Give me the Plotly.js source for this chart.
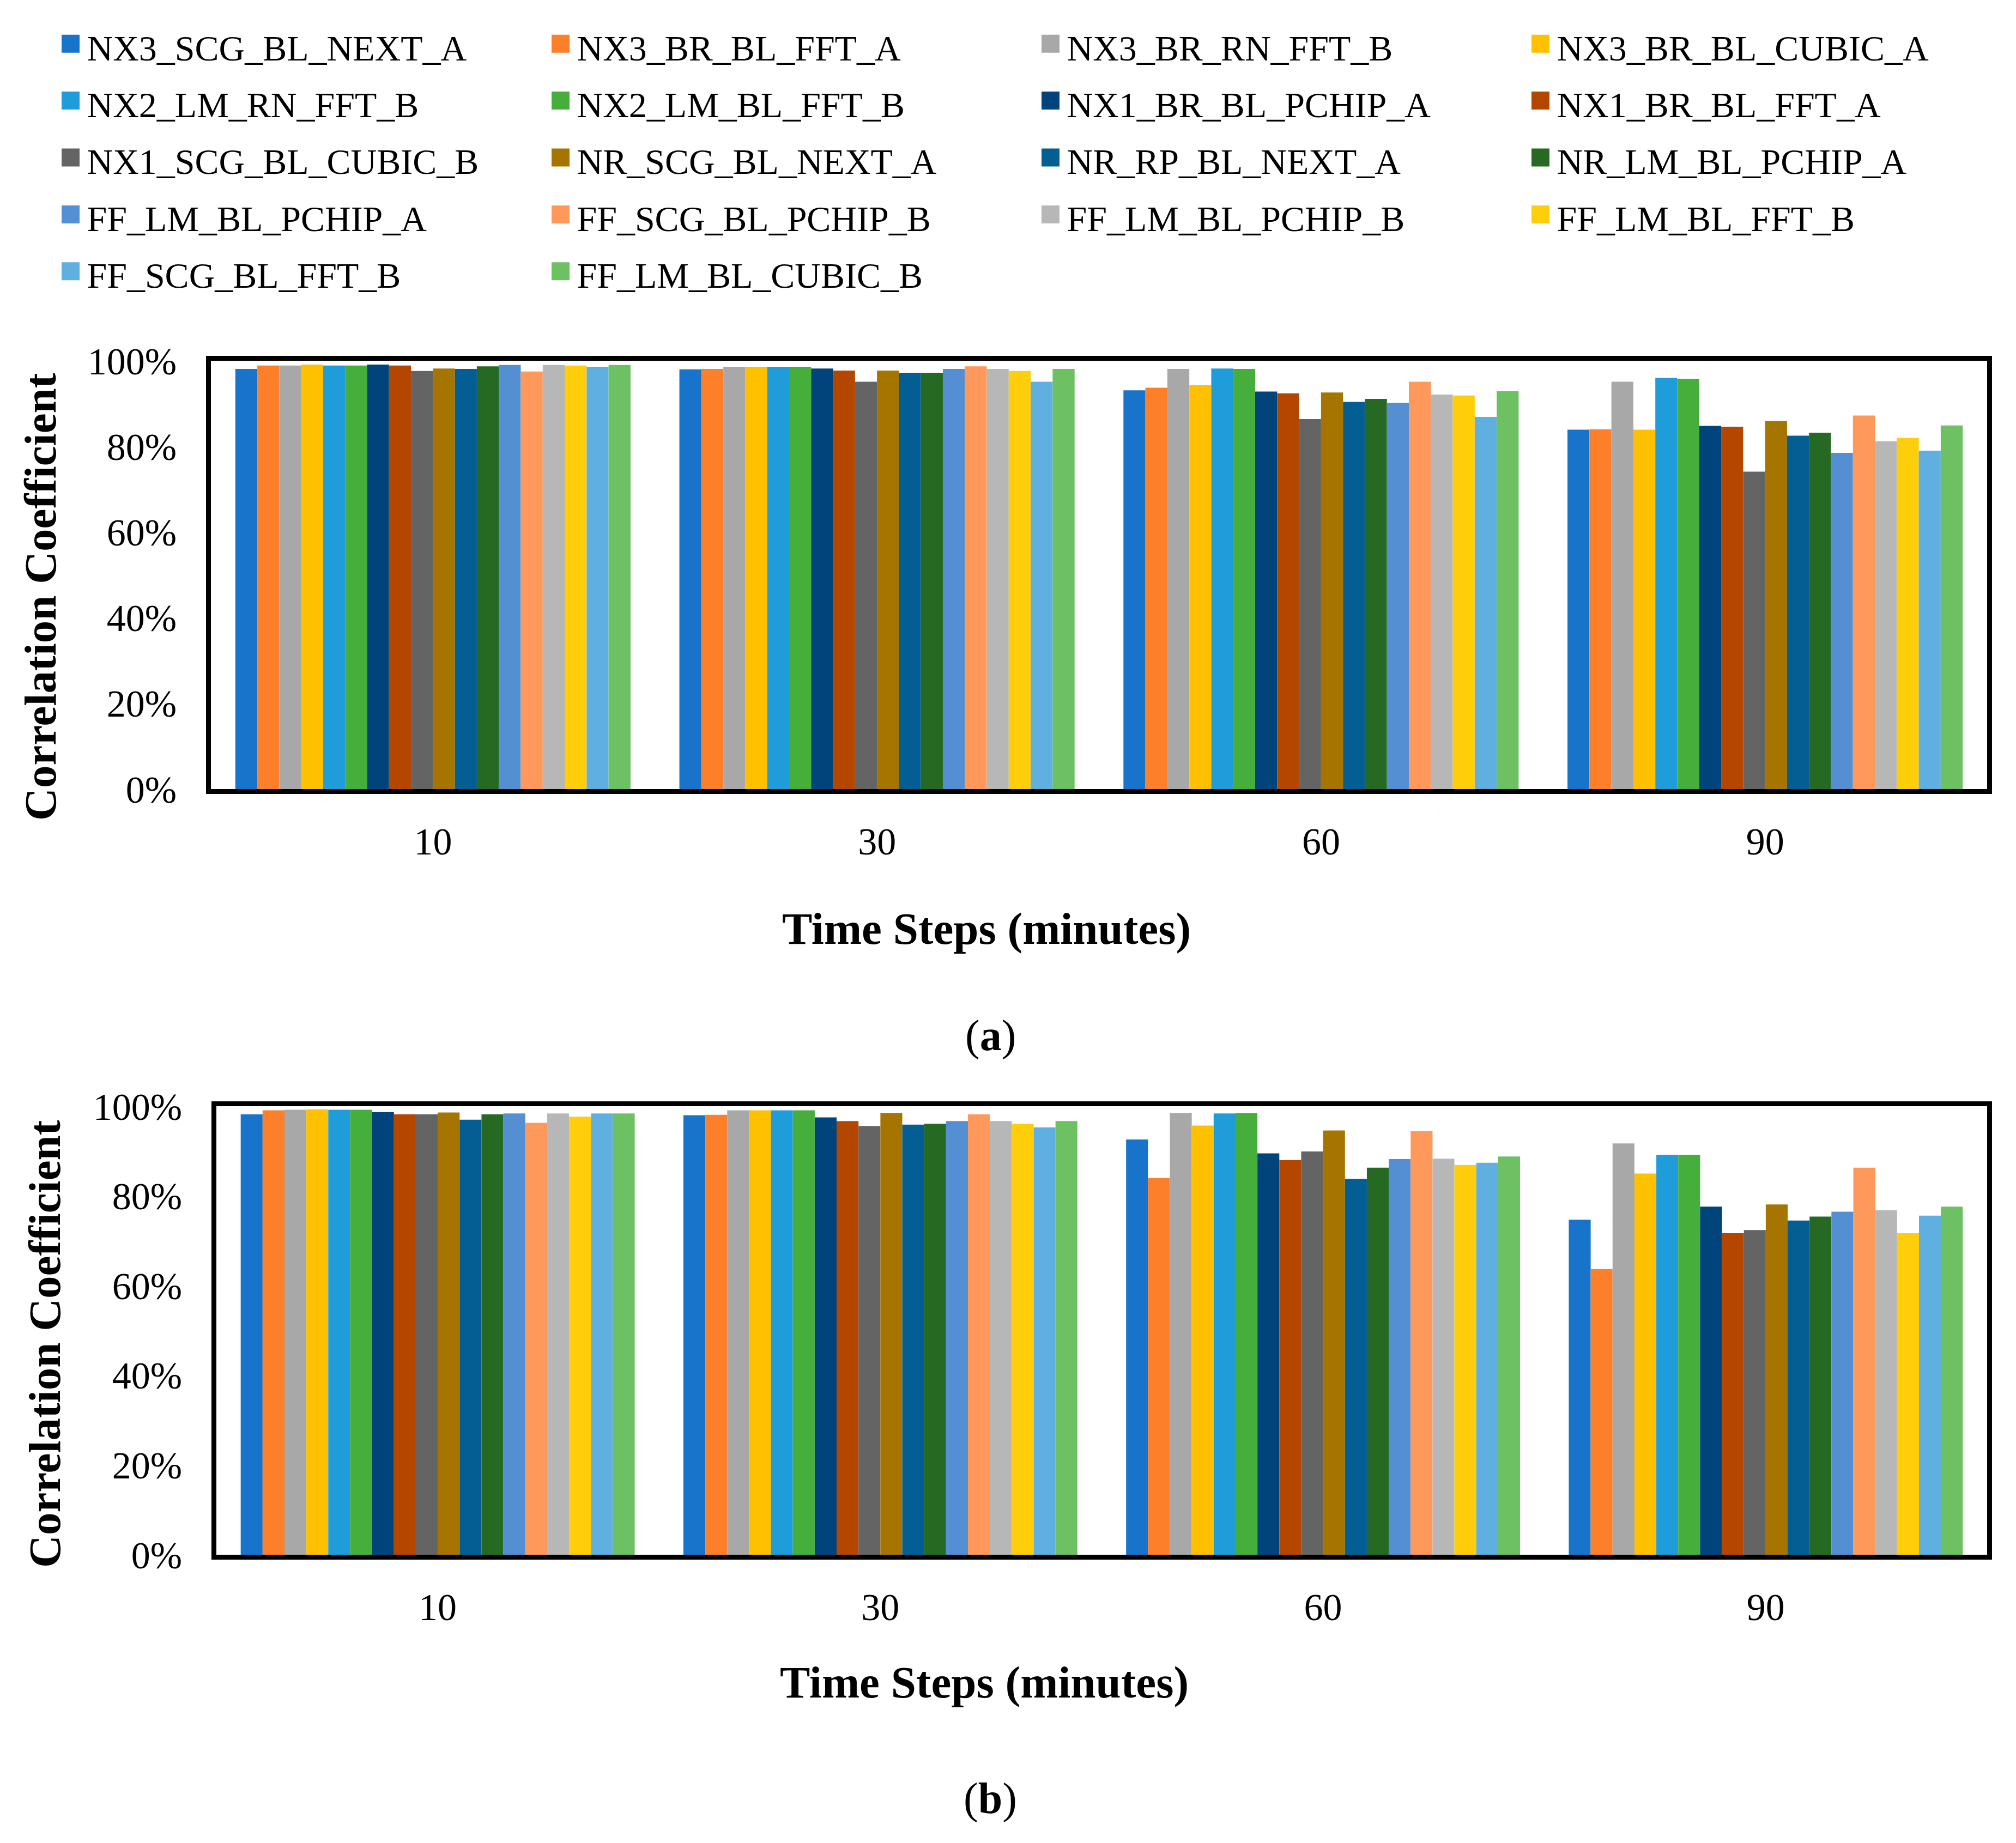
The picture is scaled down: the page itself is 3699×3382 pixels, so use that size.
<!DOCTYPE html>
<html><head><meta charset="utf-8">
<script src="https://cdn.plot.ly/plotly-3.0.1.min.js"></script>
<style>
html,body{margin:0;padding:0;background:#fff}
#chart .legend .legendpoints path { transform: translate(30px, 0px) scale(2.75) !important; transform-origin: 0px 0px; transform-box: view-box; }
</style>
</head><body>
<div id="chart" style="width:3699px;height:3382px"></div>
<script>
const timeSteps = ['10', '30', '60', '90'];
const seriesNames = [
  'NX3_SCG_BL_NEXT_A', 'NX3_BR_BL_FFT_A', 'NX3_BR_RN_FFT_B', 'NX3_BR_BL_CUBIC_A',
  'NX2_LM_RN_FFT_B', 'NX2_LM_BL_FFT_B', 'NX1_BR_BL_PCHIP_A', 'NX1_BR_BL_FFT_A',
  'NX1_SCG_BL_CUBIC_B', 'NR_SCG_BL_NEXT_A', 'NR_RP_BL_NEXT_A', 'NR_LM_BL_PCHIP_A',
  'FF_LM_BL_PCHIP_A', 'FF_SCG_BL_PCHIP_B', 'FF_LM_BL_PCHIP_B', 'FF_LM_BL_FFT_B',
  'FF_SCG_BL_FFT_B', 'FF_LM_BL_CUBIC_B'
];
const seriesColors = [
  '#1874CB', '#FE7F2A', '#A8A8A8', '#FFC000',
  '#1E9DDA', '#46AF3C', '#01447B', '#B44600',
  '#646464', '#A67500', '#025E93', '#266923',
  '#548FD3', '#FF985B', '#B7B7B7', '#FFCE0B',
  '#5FAFE0', '#6DC163'
];
// Panel (a) values in %, one array per time step, in series order
const panelA_t10 = [98.1, 98.9, 98.9, 99.1, 98.9, 98.9, 99.1, 98.9, 97.6, 98.2, 98.1, 98.7, 99.0, 97.5, 99.0, 98.9, 98.6, 99.0];
const panelA_t30 = [98.0, 98.1, 98.6, 98.6, 98.6, 98.6, 98.2, 97.7, 95.1, 97.7, 97.2, 97.2, 98.1, 98.7, 98.1, 97.6, 95.1, 98.1];
const panelA_t60 = [93.1, 93.7, 98.1, 94.3, 98.2, 98.1, 92.8, 92.4, 86.4, 92.6, 90.4, 91.1, 90.2, 95.1, 92.1, 91.9, 86.9, 92.9];
const panelA_t90 = [83.9, 84.0, 95.1, 83.9, 96.0, 95.8, 84.8, 84.6, 74.1, 85.9, 82.5, 83.2, 78.5, 87.2, 81.2, 82.0, 79.0, 84.9];
// Panel (b)
const panelB_t10 = [98.2, 99.1, 99.2, 99.3, 99.2, 99.2, 98.7, 98.2, 98.2, 98.6, 97.0, 98.2, 98.4, 96.3, 98.4, 97.7, 98.4, 98.4];
const panelB_t30 = [98.0, 98.1, 99.1, 99.1, 99.1, 99.1, 97.5, 96.7, 95.6, 98.5, 95.9, 96.1, 96.7, 98.2, 96.7, 96.1, 95.3, 96.7];
const panelB_t60 = [92.6, 84.0, 98.5, 95.7, 98.4, 98.5, 89.5, 88.0, 89.9, 94.6, 83.8, 86.3, 88.2, 94.5, 88.3, 86.9, 87.4, 88.8];
const panelB_t90 = [74.7, 63.7, 91.7, 85.0, 89.2, 89.2, 77.6, 71.7, 72.4, 78.1, 74.5, 75.4, 76.5, 86.3, 76.8, 71.7, 75.6, 77.6];

const panelA = [panelA_t10, panelA_t30, panelA_t60, panelA_t90];
const panelB = [panelB_t10, panelB_t30, panelB_t60, panelB_t90];

const W = 3699, H = 3382;
const px = v => v / W;
const py = v => 1 - v / H;

const traces = [];
seriesNames.forEach((name, i) => {
  traces.push({
    type: 'bar', x: timeSteps, y: panelA.map(a => a[i]),
    name: '<span style="font-size:66px">' + name + '</span>',
    legendgroup: name, marker: {color: seriesColors[i], line: {width: 0}},
    xaxis: 'x', yaxis: 'y', hoverinfo: 'x+y'
  });
});
seriesNames.forEach((name, i) => {
  traces.push({
    type: 'bar', x: timeSteps, y: panelB.map(a => a[i]),
    name: name, legendgroup: name, showlegend: false,
    marker: {color: seriesColors[i], line: {width: 0}},
    xaxis: 'x2', yaxis: 'y2', hoverinfo: 'x+y'
  });
});

const FONT = '"Liberation Serif", "Times New Roman", serif';
const axisCommon = {
  showline: true, mirror: true, linewidth: 9, linecolor: 'black',
  showgrid: false, zeroline: false, ticks: '', fixedrange: true
};

const layout = {
  width: W, height: H,
  margin: {l: 0, r: 0, t: 0, b: 0, pad: 0},
  paper_bgcolor: 'white', plot_bgcolor: 'white',
  font: {family: FONT, color: 'black', size: 70},
  barmode: 'group', bargap: 0.11, bargroupgap: 0,
  showlegend: true,
  legend: {
    orientation: 'h', x: px(99.5), xanchor: 'left', y: py(23), yanchor: 'top',
    font: {family: FONT, size: 78, color: 'black'},
    itemwidth: 50, entrywidth: 834, entrywidthmode: 'pixels',
    traceorder: 'normal', bgcolor: 'rgba(0,0,0,0)', borderwidth: 0
  },
  xaxis: Object.assign({}, axisCommon, {
    domain: [px(387), px(3646)], anchor: 'y', type: 'category',
    tickfont: {size: 70}, ticklabelstandoff: 27
  }),
  yaxis: Object.assign({}, axisCommon, {
    domain: [py(1448), py(662)], anchor: 'x', range: [0, 100], dtick: 20,
    ticksuffix: '%', tickfont: {size: 70}, ticklabelstandoff: 40
  }),
  xaxis2: Object.assign({}, axisCommon, {
    domain: [px(397), px(3646)], anchor: 'y2', type: 'category',
    tickfont: {size: 70}, ticklabelstandoff: 27
  }),
  yaxis2: Object.assign({}, axisCommon, {
    domain: [py(2853), py(2030)], anchor: 'x2', range: [0, 100], dtick: 20,
    ticksuffix: '%', tickfont: {size: 70}, ticklabelstandoff: 40
  }),
  annotations: [
    {text: '<b>Correlation Coefficient</b>', textangle: -90, xref: 'paper', yref: 'paper',
     x: px(74), y: py(1095), xanchor: 'center', yanchor: 'middle', showarrow: false, font: {size: 83}},
    {text: '<b>Time Steps (minutes)</b>', xref: 'paper', yref: 'paper',
     x: px(1810), y: py(1704), xanchor: 'center', yanchor: 'middle', showarrow: false, font: {size: 83}},
    {text: '(<b>a</b>)', xref: 'paper', yref: 'paper',
     x: px(1817), y: py(1900), xanchor: 'center', yanchor: 'middle', showarrow: false, font: {size: 80}},
    {text: '<b>Correlation Coefficient</b>', textangle: -90, xref: 'paper', yref: 'paper',
     x: px(82), y: py(2466), xanchor: 'center', yanchor: 'middle', showarrow: false, font: {size: 83}},
    {text: '<b>Time Steps (minutes)</b>', xref: 'paper', yref: 'paper',
     x: px(1806), y: py(3087), xanchor: 'center', yanchor: 'middle', showarrow: false, font: {size: 83}},
    {text: '(<b>b</b>)', xref: 'paper', yref: 'paper',
     x: px(1817), y: py(3300), xanchor: 'center', yanchor: 'middle', showarrow: false, font: {size: 80}}
  ]
};

Plotly.newPlot('chart', traces, layout, {displayModeBar: false});
</script>
</body></html>
